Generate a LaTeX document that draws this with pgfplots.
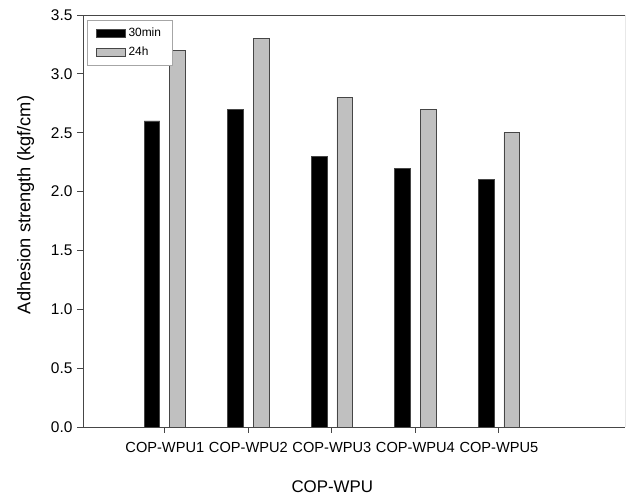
\documentclass[border=0pt]{standalone}
\usepackage{fontspec}
\setmainfont{Liberation Sans}
\usepackage{pgfplots}
\pgfplotsset{compat=1.18}
\definecolor{barblack}{RGB}{0,0,0}
\definecolor{bargray}{RGB}{192,192,192}
\definecolor{edgegray}{RGB}{70,70,70}
\begin{document}
\begin{tikzpicture}
\begin{axis}[
  at={(0,0)}, anchor=south west,
  scale only axis,
  width=13.55cm, height=10.3cm,
  xmin=-0.98, xmax=5.51,
  ymin=0, ymax=3.5,
  xtick={0,1,2,3,4},
  xticklabels={COP-WPU1,COP-WPU2,COP-WPU3,COP-WPU4,COP-WPU5},
  ytick={0,0.5,1,1.5,2,2.5,3,3.5},
  yticklabel style={/pgf/number format/fixed,/pgf/number format/fixed zerofill,/pgf/number format/precision=1,font=\fontsize{11}{13}\selectfont},
  /pgf/number format/assume math mode=true,
  xticklabel style={font=\fontsize{10.4}{12}\selectfont, yshift=-3pt},
  tick align=outside,
  major tick length=4pt,
  tick style={color=edgegray, line width=0.6pt},
  axis line style={color=edgegray, line width=0.6pt},
  xtick pos=bottom, ytick pos=left,
  axis x line*=bottom, axis y line*=left,
  xlabel={COP-WPU},
  ylabel={Adhesion strength (kgf/cm)},
  xlabel style={font=\fontsize{12}{14}\selectfont, at={(axis description cs:0.46,-0.146)}, anchor=center},
  ylabel style={font=\fontsize{13}{15}\selectfont, at={(axis description cs:-0.106,0.539)}, anchor=center},
  legend style={at={(axis description cs:0.008,0.988)}, anchor=north west,
    draw=gray!70, line width=0.6pt, font=\fontsize{8.5}{10}\selectfont,
    inner xsep=6pt, inner ysep=3.5pt, row sep=2pt,
    /tikz/every even column/.append style={column sep=2pt}},
  legend cell align=left,
  legend image code/.code={\draw[#1] (0cm,-0.1cm) rectangle (0.72cm,0.1cm);},
]
\addplot[ybar, bar width=0.39cm, bar shift=-0.32cm, fill=barblack, draw=edgegray, line width=0.5pt]
  coordinates {(0,2.6) (1,2.7) (2,2.3) (3,2.2) (4,2.1)};
\addlegendentry{30min}
\addplot[ybar, bar width=0.39cm, bar shift=0.32cm, fill=bargray, draw=edgegray, line width=0.5pt]
  coordinates {(0,3.2) (1,3.3) (2,2.8) (3,2.7) (4,2.5)};
\addlegendentry{24h}
% upper and right frame lines
\draw[edgegray, line width=0.6pt] (axis cs:-0.98,3.5) -- (axis cs:5.51,3.5) -- (axis cs:5.51,0);
\end{axis}
\useasboundingbox (-2.075,-1.7) rectangle (13.925,10.675);
\end{tikzpicture}
\end{document}
